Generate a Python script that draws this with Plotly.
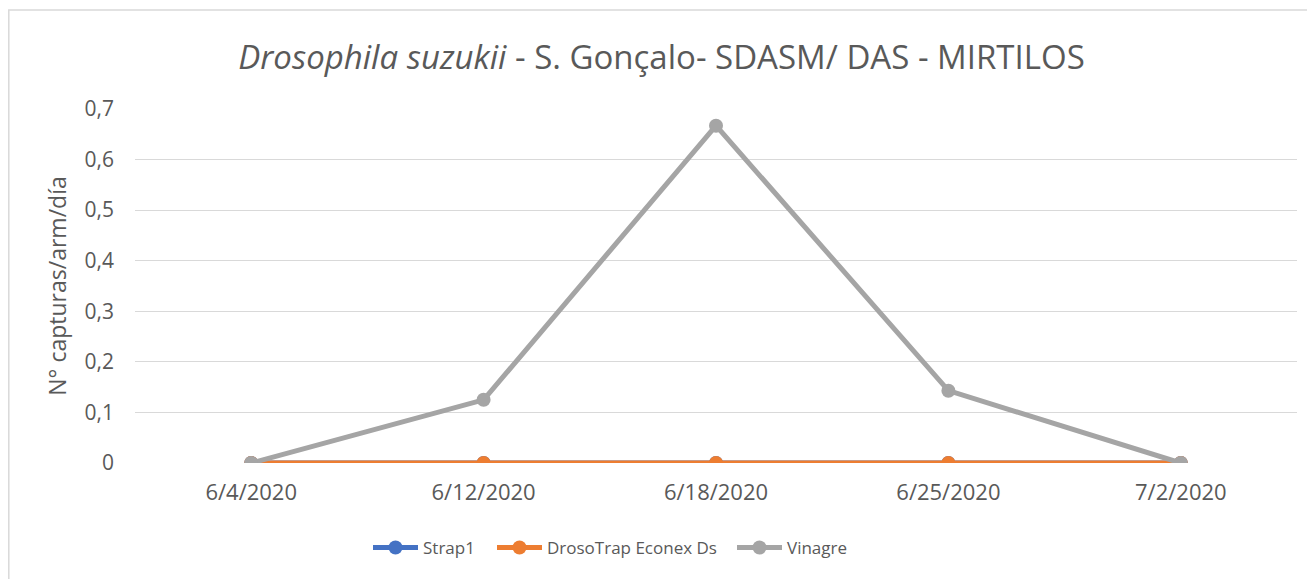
import plotly.graph_objects as go

dates = ["6/4/2020", "6/12/2020", "6/18/2020", "6/25/2020", "7/2/2020"]
strap1 = [0, 0, 0, 0, 0]
drosotrap = [0, 0, 0, 0, 0]
vinagre = [0, 0.125, 0.667, 0.143, 0]
y_ticks = [0, 0.1, 0.2, 0.3, 0.4, 0.5, 0.6, 0.7]
y_ticktext = ["0", "0,1", "0,2", "0,3", "0,4", "0,5", "0,6", "0,7"]

OFF = 8  # default page body margin
W, H = 1315 - OFF, 579 - OFF
ml, mr, mt, mb = 135 - OFF, 18, 109 - OFF, 116
pw, ph = W - ml - mr, H - mt - mb

fig = go.Figure()
series = [("Strap1", strap1, "#4472C4", "legend", 376),
          ("DrosoTrap Econex Ds", drosotrap, "#ED7D31", "legend2", 500),
          ("Vinagre", vinagre, "#A5A5A5", "legend3", 740)]
for name, vals, col, leg, _ in series:
    fig.add_trace(go.Scatter(x=dates, y=vals, name=name, mode="lines+markers",
                             line=dict(color=col, width=5),
                             marker=dict(color=col, size=14), legend=leg))

fig.update_layout(
    width=W, height=H,
    margin=dict(l=ml, r=mr, t=mt, b=mb),
    paper_bgcolor="white", plot_bgcolor="white",
    font=dict(family="Open Sans, Liberation Sans, sans-serif", color="#595959"),
    title=dict(text="<i>Drosophila suzukii</i> - S. Gonçalo- SDASM/ DAS - MIRTILOS",
               x=0.5, xanchor="center", y=1 - (57 - OFF) / H, yanchor="middle",
               font=dict(size=33, color="#595959")),
    xaxis=dict(type="category", range=[-0.5, 4.5], showgrid=False, showline=False,
               ticks="", tickfont=dict(size=22, color="#595959"), ticklabelstandoff=14),
    yaxis=dict(range=[0, 0.7], tickvals=y_ticks, ticktext=y_ticktext,
               showgrid=True, gridcolor="#D9D9D9", gridwidth=1.3, zeroline=False,
               tickfont=dict(size=21, color="#595959"), ticklabelstandoff=20,
               title=dict(text="N° capturas/arm/día", font=dict(size=23, color="#595959"),
                          standoff=11)),
    showlegend=True,
)

for name, vals, col, leg, xpx in series:
    fig.update_layout({leg: dict(orientation="h", x=(xpx - 135 - 8) / pw, xanchor="left",
                                 y=-(548 - 463) / ph, yanchor="middle",
                                 font=dict(size=17, color="#595959"),
                                 itemwidth=45, bgcolor="rgba(0,0,0,0)")})

# chart border
fig.add_shape(type="rect", xref="paper", yref="paper",
              x0=(0.8 - ml) / pw, x1=(W + 5 - ml) / pw,
              y0=-(mb + 5) / ph, y1=(H - (10 - OFF) - mb) / ph,
              line=dict(color="#D9D9D9", width=1.5), fillcolor="rgba(0,0,0,0)", layer="below")

fig.write_html("out.html")
